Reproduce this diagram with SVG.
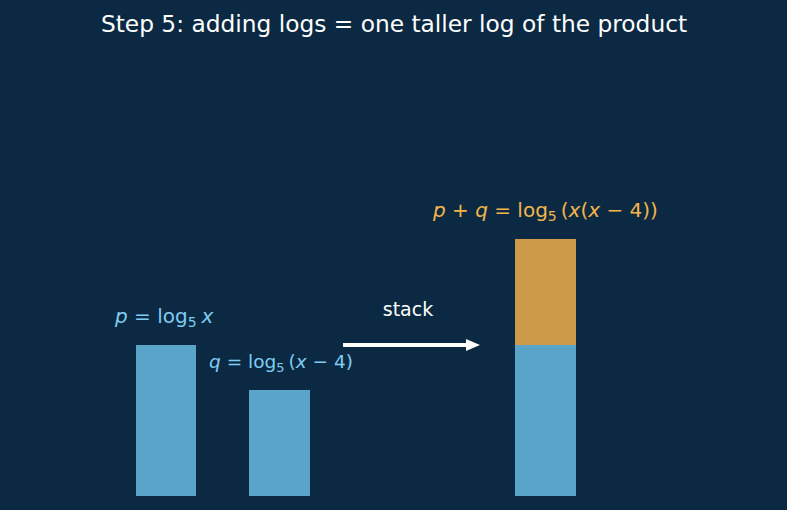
<svg xmlns="http://www.w3.org/2000/svg" width="787" height="510" viewBox="0 0 787 510">
<style>
text{font-family:"DejaVu Sans",sans-serif}
.m{font-size:20px}
.i{font-style:italic}
.sub{font-size:14px}
.blue{fill:#5aa3c9}
.orange{fill:#cc9a48}
.lb{fill:#7fcdf2}
.lo{fill:#f5b54a}
</style>
<defs>
<marker id="ah" viewBox="0 0 14 12" refX="1" refY="6" markerWidth="14" markerHeight="12" orient="auto" markerUnits="userSpaceOnUse">
<path d="M0,0 L14,6 L0,12 Z" fill="#ffffff"/>
</marker>
</defs>
<rect width="787" height="510" fill="#0b2942"/>
<text x="394" y="32" text-anchor="middle" font-size="23.3" fill="#ffffff">Step 5: adding logs = one taller log of the product</text>
<g id="bar-p">
<rect class="blue" x="136" y="345" width="60" height="151"/>
<text class="m lb" x="115" y="323"><tspan class="i">p</tspan> = log<tspan class="sub" dy="4">5</tspan><tspan dy="-4" dx="5" class="i">x</tspan></text>
</g>
<g id="bar-q">
<rect class="blue" x="249" y="390" width="61" height="106"/>
<text class="lb" x="209" y="368" style="font-size:18.5px"><tspan class="i">q</tspan> = log<tspan style="font-size:13px" dy="4">5</tspan><tspan dy="-4" dx="4">(</tspan><tspan class="i">x</tspan> − 4)</text>
</g>
<g id="bar-sum">
<rect class="blue" x="515" y="345" width="61" height="151"/>
<rect class="orange" x="515" y="239" width="61" height="106"/>
<text class="m lo" x="433" y="217"><tspan class="i">p</tspan> + <tspan class="i">q</tspan> = log<tspan class="sub" dy="4">5</tspan><tspan dy="-4" dx="4">(</tspan><tspan class="i">x</tspan>(<tspan class="i">x</tspan> − 4))</text>
</g>
<g id="connectors">
<line x1="343" y1="345" x2="467" y2="345" stroke="#ffffff" stroke-width="4" marker-end="url(#ah)"/>
<text x="408" y="316" text-anchor="middle" font-size="19" fill="#ffffff">stack</text>
</g>
</svg>
